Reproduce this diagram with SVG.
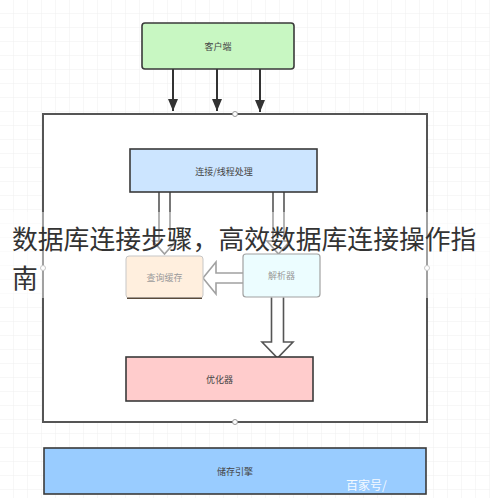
<svg xmlns="http://www.w3.org/2000/svg" width="490" height="498" viewBox="0 0 490 498">
<defs>
<pattern id="grid" width="14" height="14" patternUnits="userSpaceOnUse">
<path d="M14 0V14M0 14H14" fill="none" stroke="#efefef" stroke-width="1"/>
</pattern>
<marker id="ah" markerWidth="12" markerHeight="10" refX="12" refY="5" orient="auto" markerUnits="userSpaceOnUse" viewBox="0 0 12 10">
<path d="M0 0L12 5L0 10Z" fill="#333"/>
</marker>
<style>
.box{stroke:#3a3a3a;stroke-width:1.6}
.lbl{font-family:"Noto Sans CJK SC","Liberation Sans",sans-serif;font-size:9px;fill:#444;text-anchor:middle;dominant-baseline:central}
.hollow{fill:#fff;stroke:#555;stroke-width:1.6;stroke-linejoin:miter}
.conn{stroke:#333;stroke-width:2;fill:none}
.dot{fill:#fff;stroke:#999;stroke-width:1}
</style>
</defs>
<rect width="490" height="498" fill="#fff"/>
<rect width="490" height="498" fill="url(#grid)"/>

<g id="outer">
<rect x="43" y="114" width="384" height="308" fill="#fff" stroke="#555" stroke-width="2"/>
</g>

<g id="connectors">
<line class="conn" x1="173" y1="69" x2="173" y2="111" marker-end="url(#ah)"/>
<line class="conn" x1="217" y1="69" x2="217" y2="111" marker-end="url(#ah)"/>
<line class="conn" x1="260" y1="69" x2="260" y2="112" marker-end="url(#ah)"/>
<path class="hollow" d="M159 192V241H153L164.5 254L176 241H170V192"/>
<path class="hollow" d="M273 192V241H267L278.5 254L290 241H284V192"/>
<path class="hollow" d="M243 273H216V262L203 278L216 294V283H243"/>
<path class="hollow" d="M271.5 297V342H262L277.5 358L293 342H283.5V297"/>
</g>

<g id="client">
<rect class="box" x="142" y="23" width="152" height="46" rx="3" fill="#c8f7c2"/>
<text class="lbl" x="218" y="46">客户端</text>
</g>
<g id="connection">
<rect class="box" x="130" y="149" width="187" height="43" fill="#cce5ff"/>
<text class="lbl" x="224" y="171">连接/线程处理</text>
</g>
<g id="cache">
<rect x="126" y="256" width="77" height="42" rx="3" fill="#ffe2c4" stroke="#999" stroke-width="1"/>
<line x1="127" y1="298" x2="202" y2="298" stroke="#5a4a3a" stroke-width="2"/>
<text class="lbl" x="164.5" y="277">查询缓存</text>
</g>
<g id="parser">
<rect x="243" y="254" width="77" height="43" rx="3" fill="#dcfcff" stroke="#555" stroke-width="1.2"/>
<text class="lbl" x="281.5" y="275">解析器</text>
</g>
<g id="optimizer">
<rect class="box" x="126" y="357" width="187" height="44" fill="#ffcccc" stroke="#5a4a4a"/>
<text class="lbl" x="219.5" y="379">优化器</text>
</g>
<g id="storage">
<rect class="box" x="44" y="448" width="382" height="46" fill="#99ccff" stroke="#2f3f55"/>
<text class="lbl" x="235" y="471">储存引擎</text>
</g>

<circle class="dot" cx="235" cy="114" r="2.5"/>
<circle class="dot" cx="235" cy="422" r="2.5"/>
<circle class="dot" cx="43" cy="268" r="2.5"/>
<circle class="dot" cx="427" cy="268" r="2.5"/>

<rect x="0" y="212" width="490" height="86" fill="#fff" opacity="0.45"/>
<g id="title" font-family="'Noto Sans CJK SC','Liberation Sans',sans-serif" font-size="25.8" fill="#333">
<text x="12" y="249">数据库连接步骤，高效数据库连接操作指</text>
<text x="12" y="288">南</text>
</g>
<text x="346" y="490" font-family="'Noto Sans CJK SC',sans-serif" font-size="12" fill="#fff" opacity="0.9">百家号/</text>
</svg>
